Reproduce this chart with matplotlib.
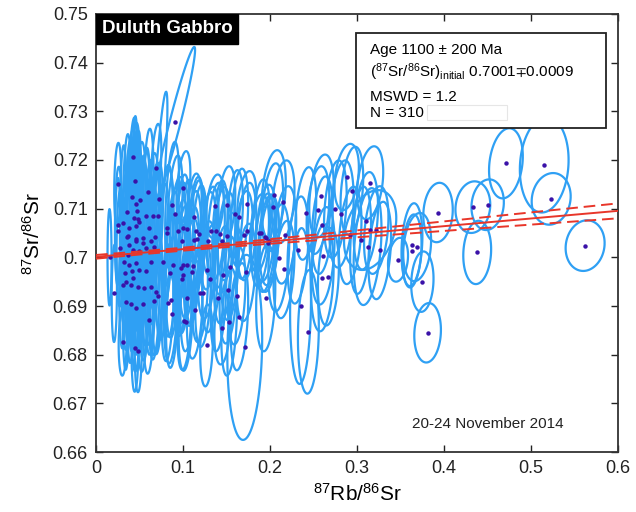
import matplotlib

matplotlib.use('Agg')
import matplotlib.pyplot as plt
import numpy as np
from matplotlib.collections import LineCollection
from matplotlib.patches import Rectangle

plt.rcParams['font.family'] = ['Liberation Sans', 'DejaVu Sans']
plt.rcParams['mathtext.default'] = 'regular'

# 87Rb/86Sr, 87Sr/86Sr, half widths and error correlation
rb = [0.0429, 0.069, 0.0249, 0.0452, 0.0601, 0.0414, 0.0509, 0.046, 0.0874, 0.0356,
      0.0475, 0.0575, 0.0652, 0.0709, 0.0904, 0.0483, 0.0498, 0.0314, 0.046, 0.0613,
      0.0257, 0.0383, 0.0249, 0.0812, 0.0939, 0.0812, 0.0352, 0.046, 0.0537, 0.0682,
      0.0364, 0.0276, 0.0383, 0.046, 0.0537, 0.0632, 0.067, 0.0575, 0.0498, 0.0421,
      0.0364, 0.0326, 0.0383, 0.046, 0.0414, 0.0498, 0.0337, 0.0421, 0.0575, 0.0632,
      0.0766, 0.0881, 0.0977, 0.0851, 0.1004, 0.0345, 0.0306, 0.0402, 0.0479, 0.0556,
      0.0632, 0.021, 0.069, 0.0709, 0.0345, 0.0402, 0.046, 0.0537, 0.067, 0.0824,
      0.0862, 0.0605, 0.0874, 0.1015, 0.0306, 0.0448, 0.0486,
      0.1004, 0.1126, 0.1368, 0.150, 0.1732, 0.1598, 0.1648, 0.0996, 0.1042, 0.1149,
      0.1188, 0.1318, 0.138, 0.1425, 0.150, 0.1732, 0.1701, 0.1877, 0.1943, 0.1126,
      0.1157, 0.0985, 0.1291, 0.1445, 0.1992, 0.1004, 0.105, 0.1111, 0.110, 0.1272,
      0.1456, 0.154, 0.1724, 0.0985, 0.131, 0.1195, 0.152, 0.1617, 0.105, 0.1406,
      0.1134, 0.1648, 0.153, 0.103, 0.145, 0.127, 0.1709, 0.123,
      0.0908, 0.072, 0.044, 0.0155,
      0.204, 0.215, 0.203, 0.259, 0.255, 0.241, 0.275, 0.282, 0.288, 0.315,
      0.294, 0.260, 0.310, 0.217, 0.195, 0.232, 0.210, 0.261, 0.216, 0.189,
      0.198, 0.260, 0.267, 0.195, 0.235, 0.244,
      0.315, 0.322, 0.292, 0.304, 0.312, 0.326, 0.347, 0.363, 0.369, 0.363,
      0.375, 0.381, 0.393, 0.433, 0.450, 0.438, 0.471, 0.515, 0.523, 0.562]
sr = [0.7207, 0.7184, 0.7150, 0.7156, 0.7134, 0.7123, 0.7117, 0.7110, 0.7107, 0.7093,
      0.7096, 0.7085, 0.7084, 0.7084, 0.7089, 0.7079, 0.7072, 0.7070, 0.7064, 0.7060,
      0.7066, 0.7060, 0.7053, 0.7060, 0.7055, 0.7050, 0.7041, 0.7038, 0.7039, 0.7042,
      0.7043, 0.7019, 0.7026, 0.7033, 0.7029, 0.7033, 0.7022, 0.7019, 0.7012, 0.7015,
      0.7005, 0.6991, 0.6985, 0.6988, 0.6972, 0.6974, 0.6967, 0.6957, 0.6971, 0.6990,
      0.6991, 0.6985, 0.6978, 0.6967, 0.6964, 0.6950, 0.6943, 0.6943, 0.6940, 0.6938,
      0.6940, 0.6926, 0.6929, 0.6921, 0.6909, 0.6905, 0.6895, 0.6905, 0.6910, 0.6907,
      0.6912, 0.6871, 0.6883, 0.6869, 0.6826, 0.6814, 0.6808,
      0.7143, 0.7082, 0.7105, 0.7107, 0.7110, 0.7089, 0.7082, 0.7060, 0.7059, 0.7055,
      0.7048, 0.7055, 0.7053, 0.7048, 0.7043, 0.7053, 0.7046, 0.7050, 0.7041, 0.7036,
      0.7038, 0.7033, 0.7034, 0.7034, 0.7033, 0.6985, 0.6985, 0.6983, 0.6969, 0.6974,
      0.6964, 0.6981, 0.6969, 0.6956, 0.6956, 0.6926, 0.6933, 0.6921, 0.6917, 0.6917,
      0.6892, 0.6878, 0.6867, 0.6867, 0.6855, 0.6819, 0.6815, 0.6926,
      0.7277, 0.7120, 0.7080, 0.7000,
      0.7128, 0.7114, 0.7103, 0.7126, 0.7097, 0.7090, 0.7099, 0.7089, 0.7165, 0.7153,
      0.7137, 0.7066, 0.7075, 0.7046, 0.7039, 0.7015, 0.6999, 0.7003, 0.6975, 0.7050,
      0.7029, 0.6958, 0.6960, 0.6917, 0.6900, 0.6847,
      0.7056, 0.7056, 0.7045, 0.7035, 0.7022, 0.7014, 0.6995, 0.7026, 0.7021, 0.7013,
      0.6950, 0.6845, 0.7092, 0.7103, 0.7108, 0.7010, 0.7193, 0.7190, 0.7120, 0.7024]
rb_err = [0.004, 0.006, 0.004, 0.005, 0.006, 0.005, 0.006, 0.004, 0.008, 0.005,
          0.006, 0.005, 0.007, 0.006, 0.009, 0.004, 0.005, 0.004, 0.006, 0.006,
          0.004, 0.005, 0.003, 0.008, 0.009, 0.007, 0.005, 0.004, 0.006, 0.007,
          0.004, 0.004, 0.005, 0.006, 0.005, 0.006, 0.007, 0.005, 0.005, 0.004,
          0.004, 0.004, 0.005, 0.005, 0.004, 0.006, 0.004, 0.005, 0.006, 0.007,
          0.008, 0.008, 0.009, 0.007, 0.008, 0.004, 0.004, 0.005, 0.005, 0.006,
          0.006, 0.003, 0.007, 0.006, 0.004, 0.005, 0.005, 0.006, 0.006, 0.007,
          0.008, 0.006, 0.007, 0.008, 0.0046, 0.004, 0.004,
          0.008, 0.009, 0.010, 0.010, 0.011, 0.009, 0.010, 0.008, 0.008, 0.009,
          0.008, 0.009, 0.010, 0.009, 0.010, 0.011, 0.010, 0.011, 0.011, 0.008,
          0.009, 0.008, 0.009, 0.010, 0.011, 0.008, 0.009, 0.008, 0.009, 0.010,
          0.010, 0.010, 0.011, 0.008, 0.009, 0.009, 0.010, 0.010, 0.008, 0.009,
          0.009, 0.010, 0.009, 0.008, 0.009, 0.0073, 0.020, 0.009,
          0.023, 0.010, 0.004, 0.0023,
          0.014, 0.013, 0.012, 0.014, 0.013, 0.012, 0.013, 0.014, 0.014, 0.015,
          0.013, 0.012, 0.014, 0.013, 0.012, 0.012, 0.012, 0.013, 0.012, 0.011,
          0.012, 0.013, 0.012, 0.011, 0.012, 0.012,
          0.030, 0.014, 0.013, 0.012, 0.016, 0.013, 0.0115, 0.012, 0.016, 0.011,
          0.0128, 0.0153, 0.0169, 0.020, 0.0186, 0.016, 0.0194, 0.028, 0.0224, 0.0224]
sr_err = [0.008, 0.009, 0.0085, 0.012, 0.013, 0.014, 0.012, 0.015, 0.013, 0.016,
          0.012, 0.014, 0.013, 0.011, 0.012, 0.018, 0.013, 0.016, 0.017, 0.014,
          0.012, 0.018, 0.011, 0.012, 0.011, 0.014, 0.015, 0.019, 0.016, 0.015,
          0.013, 0.012, 0.017, 0.014, 0.018, 0.013, 0.016, 0.020, 0.016, 0.021,
          0.015, 0.013, 0.016, 0.018, 0.014, 0.017, 0.012, 0.015, 0.015, 0.017,
          0.016, 0.015, 0.014, 0.013, 0.012, 0.014, 0.013, 0.016, 0.014, 0.015,
          0.014, 0.010, 0.013, 0.012, 0.014, 0.012, 0.013, 0.014, 0.012, 0.012,
          0.013, 0.011, 0.011, 0.010, 0.0069, 0.009, 0.0085,
          0.0075, 0.009, 0.0065, 0.008, 0.0067, 0.009, 0.010, 0.011, 0.010, 0.011,
          0.010, 0.009, 0.010, 0.011, 0.009, 0.010, 0.009, 0.008, 0.009, 0.010,
          0.012, 0.012, 0.010, 0.011, 0.009, 0.012, 0.011, 0.012, 0.011, 0.010,
          0.010, 0.011, 0.010, 0.011, 0.011, 0.010, 0.011, 0.010, 0.011, 0.011,
          0.010, 0.011, 0.011, 0.010, 0.0075, 0.0084, 0.019, 0.011,
          0.0155, 0.022, 0.021, 0.0099,
          0.0092, 0.0085, 0.009, 0.0085, 0.009, 0.0095, 0.010, 0.011, 0.0068, 0.0075,
          0.009, 0.010, 0.010, 0.010, 0.011, 0.011, 0.011, 0.010, 0.010, 0.011,
          0.010, 0.011, 0.010, 0.011, 0.016, 0.0127,
          0.0082, 0.009, 0.010, 0.011, 0.012, 0.010, 0.0045, 0.0085, 0.007, 0.0075,
          0.0062, 0.0061, 0.0061, 0.0053, 0.0052, 0.0065, 0.0072, 0.0098, 0.0053, 0.0052]
rho = [0.3, 0.4, 0.2, 0.3, 0.3, 0.2, 0.3, 0.2, 0.4, 0.2,
       0.3, 0.2, 0.3, 0.3, 0.4, 0.2, 0.2, 0.1, 0.2, 0.3,
       0.1, 0.2, 0.1, 0.3, 0.3, 0.3, 0.2, 0.2, 0.2, 0.3,
       0.2, 0.1, 0.2, 0.2, 0.2, 0.3, 0.3, 0.2, 0.2, 0.1,
       0.1, 0.1, 0.2, 0.2, 0.2, 0.2, 0.1, 0.2, 0.3, 0.3,
       0.3, 0.3, 0.3, 0.3, 0.3, 0.1, 0.1, 0.2, 0.2, 0.2,
       0.3, 0.1, 0.3, 0.3, 0.1, 0.2, 0.2, 0.2, 0.3, 0.3,
       0.3, 0.2, 0.3, 0.3, 0.1, 0.1, 0.1,
       0.4, 0.3, 0.3, 0.3, 0.3, 0.3, 0.3, 0.3, 0.3, 0.3,
       0.3, 0.3, 0.3, 0.3, 0.3, 0.3, 0.3, 0.3, 0.3, 0.3,
       0.3, 0.3, 0.3, 0.3, 0.3, 0.3, 0.3, 0.3, 0.3, 0.3,
       0.3, 0.3, 0.3, 0.3, 0.3, 0.3, 0.3, 0.3, 0.3, 0.3,
       0.3, 0.3, 0.3, 0.3, 0.2, 0.2, 0.1, 0.3,
       0.96, 0.85, 0.3, 0.0,
       0.3, 0.3, 0.3, 0.3, 0.3, 0.3, 0.3, 0.3, 0.3, 0.3,
       0.3, 0.3, 0.3, 0.3, 0.3, 0.3, 0.3, 0.3, 0.3, 0.3,
       0.3, 0.2, 0.2, 0.2, 0.1, 0.1,
       0.3, 0.3, 0.3, 0.3, 0.3, 0.3, 0.2, 0.2, 0.2, 0.2,
       0.1, 0.1, 0.1, 0.1, 0.1, 0.1, 0.2, 0.1, 0.1, 0.1]

# isochron result
intercept = 0.7001
age_ma = 1100
lam = 1.42e-11
slope = np.exp(lam * age_ma * 1e6) - 1
slope_err = 0.0029
x_mean = 0.08
y_err_mean = 0.0003

fig = plt.figure(figsize=(6.36, 5.12), dpi=100)
ax = fig.add_axes([0.151, 0.117, 0.821, 0.856])

# error ellipses
t = np.linspace(0, 2 * np.pi, 120)
segs = []
for x0, y0, sx, sy, r in zip(rb, sr, rb_err, sr_err, rho):
    ex = x0 + sx * np.cos(t)
    ey = y0 + sy * (r * np.cos(t) + np.sqrt(1 - r ** 2) * np.sin(t))
    segs.append(np.column_stack([ex, ey]))
ax.add_collection(LineCollection(segs, colors='#2fa0f4', linewidths=1.6, zorder=2))
ax.plot(rb, sr, 'o', color='#3a12a8', markersize=3.2, markeredgewidth=0, zorder=3)

# isochron and envelope
xl = np.linspace(0, 0.6, 200)
yl = intercept + slope * xl
env = np.sqrt(y_err_mean ** 2 + ((xl - x_mean) * slope_err) ** 2)
ax.plot(xl, yl, color='#e8362a', lw=1.4, zorder=4)
ax.plot(xl, yl + env, color='#e8362a', lw=1.4, ls=(0, (6, 3)), zorder=4)
ax.plot(xl, yl - env, color='#e8362a', lw=1.4, ls=(0, (6, 3)), zorder=4)

ax.set_xlim(0, 0.6)
ax.set_ylim(0.66, 0.75)
ax.set_xticks([0, 0.1, 0.2, 0.3, 0.4, 0.5, 0.6])
ax.set_xticklabels(['0', '0.1', '0.2', '0.3', '0.4', '0.5', '0.6'])
ax.set_yticks(np.arange(0.66, 0.7501, 0.01))
ax.set_yticklabels(['0.66', '0.67', '0.68', '0.69', '0.7', '0.71', '0.72', '0.73', '0.74', '0.75'])
ax.tick_params(direction='in', length=5, width=1, top=True, right=True, labelsize=13,
               colors='#222222', pad=6)
for s in ax.spines.values():
    s.set_linewidth(1.3)
    s.set_color('#333333')

ax.set_xlabel(r'$^{87}$Rb/$^{86}$Sr', fontsize=15, labelpad=4)
ax.set_ylabel(r'$^{87}$Sr/$^{86}$Sr', fontsize=15, labelpad=6)

# title tag
ax.text(0.012, 0.985, 'Duluth Gabbro', transform=ax.transAxes, ha='left', va='top',
        fontsize=13.5, fontweight='bold', color='white', zorder=7)
ax.add_patch(Rectangle((0.0, 0.932), 0.272, 0.068, transform=ax.transAxes,
                       fc='black', ec='black', zorder=6))

# result box
ax.add_patch(Rectangle((0.498, 0.740), 0.479, 0.217, transform=ax.transAxes,
                       fc='white', ec='#222222', lw=1.3, zorder=6))
ax.text(0.525, 0.918, 'Age 1100 ± 200 Ma', transform=ax.transAxes, fontsize=11, zorder=7, va='center')
ax.text(0.525, 0.866, r'($^{87}$Sr/$^{86}$Sr)$_{initial}$ 0.7001$\mp$0.0009', transform=ax.transAxes,
        fontsize=11, zorder=7, va='center')
ax.text(0.525, 0.811, 'MSWD = 1.2', transform=ax.transAxes, fontsize=11, zorder=7, va='center')
ax.text(0.525, 0.774, 'N = 310', transform=ax.transAxes, fontsize=11, zorder=7, va='center')
ax.add_patch(Rectangle((0.634, 0.758), 0.153, 0.034, transform=ax.transAxes,
                       fc='white', ec='#e6e6e6', lw=0.8, zorder=7))

ax.text(0.75, 0.055, '20-24 November 2014', transform=ax.transAxes, ha='center',
        fontsize=11, color='#222222')

fig.savefig('out.png', dpi=100)
plt.close()
